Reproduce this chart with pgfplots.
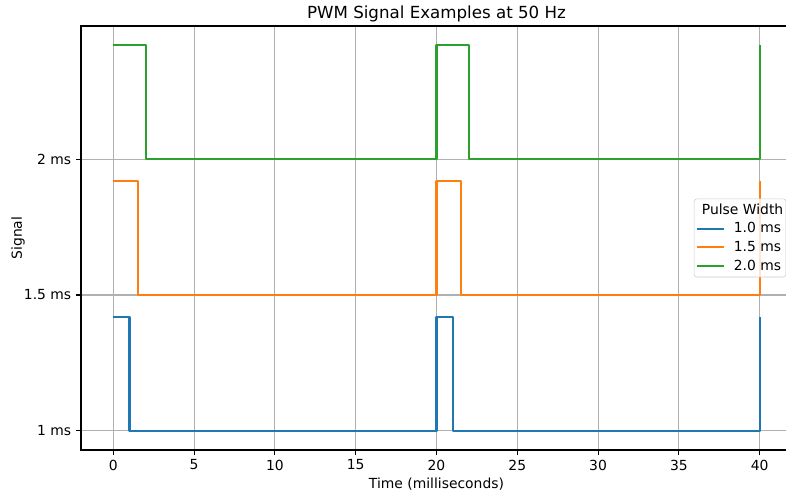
\documentclass[border=0pt]{standalone}
\usepackage{pgfplots}
\pgfplotsset{compat=1.18}
\usepackage{fontspec}
\setmainfont{DejaVu Sans}

\definecolor{tabblue}{HTML}{1F77B4}
\definecolor{taborange}{HTML}{FF7F0E}
\definecolor{tabgreen}{HTML}{2CA02C}
\definecolor{gridgray}{HTML}{B0B0B0}

\begin{document}
\begin{tikzpicture}
    % picture is cropped on the right like the reference
    \useasboundingbox (-58.32pt,-30.96pt) rectangle (507.6pt,324pt);
    \clip (-58.32pt,-30.96pt) rectangle (507.6pt,324pt);
    \begin{axis}[
        at={(0,0)}, anchor=south west,
        scale only axis,
        width=511.9pt, height=305.3pt,
        xmin=-2, xmax=42,
        ymin=-0.142, ymax=2.982,
        xtick={0,5,...,40},
        ytick={0,1,2},
        yticklabels={1 ms, 1.5 ms, 2 ms},
        grid=major,
        grid style={line width=0.8pt, draw=gridgray},
        axis line style={line width=0.8pt},
        tick style={line width=0.8pt, black},
        tick align=outside,
        major tick length=3.5pt,
        xtick pos=bottom, ytick pos=left,
        tick label style={font=\fontsize{10}{12}\selectfont},
        /pgf/number format/assume math mode=true,
        xlabel={Time (milliseconds)},
        ylabel={Signal},
        label style={font=\fontsize{10}{12}\selectfont},
        xlabel style={yshift=1pt},
        ylabel style={yshift=-7.5pt},
        title={PWM Signal Examples at 50 Hz},
        title style={font=\fontsize{12}{14}\selectfont, yshift=-6.5pt},
        legend style={
            at={(0.992,0.5)}, anchor=east,
            font=\fontsize{10}{12}\selectfont,
            draw=gray!40, rounded corners=2pt,
            fill=white, fill opacity=0.8, text opacity=1,
            row sep=0.5pt,
            inner sep=1.5pt,
        },
        legend cell align=left,
        every axis plot/.append style={
            legend image code/.code={
                \draw[##1] (0cm,0cm) -- (0.68cm,0cm);
                \path (0.68cm+4.3pt,0cm);
            }
        },
    ]
        \addlegendimage{empty legend}
        \addlegendentry{\makebox[0pt][l]{\hspace{-23pt}Pulse Width}}

        \addplot[tabblue, line width=1.5pt, line join=round] coordinates {
            (0,0.84) (1,0.84) (1,0) (20,0) (20,0.84) (21,0.84) (21,0) (40,0) (40,0.84)
        };
        \addlegendentry{1.0 ms}

        \addplot[taborange, line width=1.5pt, line join=round] coordinates {
            (0,1.84) (1.5,1.84) (1.5,1) (20,1) (20,1.84) (21.5,1.84) (21.5,1) (40,1) (40,1.84)
        };
        \addlegendentry{1.5 ms}

        \addplot[tabgreen, line width=1.5pt, line join=round] coordinates {
            (0,2.84) (2,2.84) (2,2) (20,2) (20,2.84) (22,2.84) (22,2) (40,2) (40,2.84)
        };
        \addlegendentry{2.0 ms}
    \end{axis}
\end{tikzpicture}
\end{document}
